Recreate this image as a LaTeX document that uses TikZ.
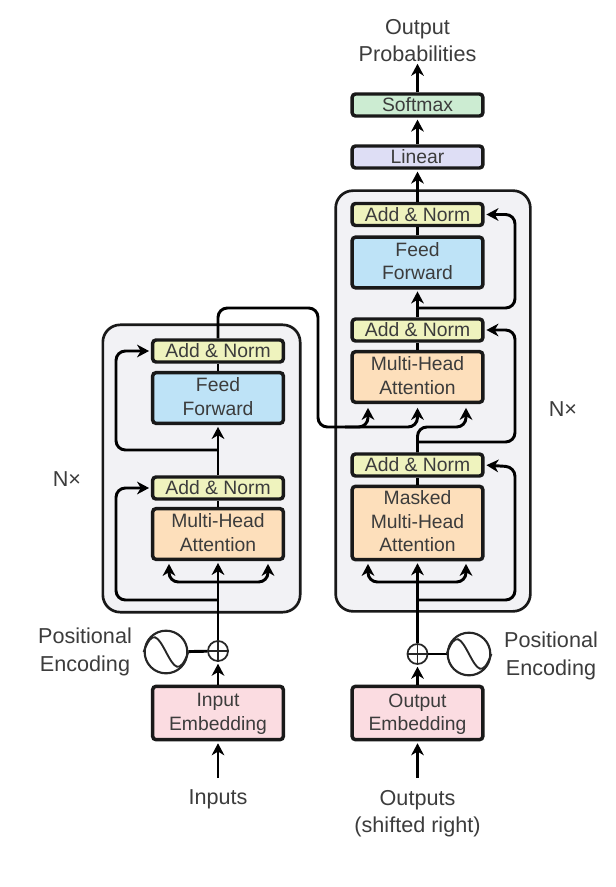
\documentclass[tikz,border=0pt]{standalone}
\usepackage{fontspec}
\setmainfont{Liberation Sans}
\usetikzlibrary{arrows.meta}
\definecolor{txt}{HTML}{3C3C3C}
\definecolor{bgc}{HTML}{F2F2F5}
\definecolor{normc}{HTML}{EFF3BE}
\definecolor{ffc}{HTML}{BEE3F7}
\definecolor{attc}{HTML}{FDDFBB}
\definecolor{embc}{HTML}{FBDCE1}
\definecolor{softc}{HTML}{CCECD2}
\definecolor{linc}{HTML}{DEDEF5}
\tikzset{
  blockbg/.style={draw=black!90,fill=bgc,line width=2pt,rounded corners=13pt},
  lbl/.style={font=\fontsize{16.2}{20.25}\selectfont,text=txt,align=center,inner sep=0pt},
  pelbl/.style={font=\fontsize{16.2}{21}\selectfont,text=txt,align=center,inner sep=0pt},
  box/.style={draw=black!90,line width=2.6pt,rounded corners=2.5pt,minimum width=98pt,inner sep=0pt,align=center,
    font=\fontsize{14.5}{17.6}\selectfont,text=txt},
  nbox/.style={box,fill=normc,minimum height=16.5pt},
  ffbox/.style={box,fill=ffc,minimum height=38pt,text depth=2.4pt},
  attbox/.style={box,fill=attc,minimum height=38pt,text depth=2.4pt},
  maskbox/.style={box,fill=attc,minimum height=55pt,text depth=2.4pt},
  embbox/.style={box,fill=embc,minimum height=40pt,text depth=1.5pt},
  softbox/.style={box,fill=softc,minimum height=16.5pt},
  linbox/.style={box,fill=linc,minimum height=16.5pt},
  plusnode/.style={circle,draw=black!85,fill=white,line width=1.3pt,minimum size=15pt,inner sep=0pt},
  sinenode/.style={circle,draw=black!85,fill=white,line width=1.6pt,minimum size=32pt,inner sep=0pt},
  wire/.style={draw=black,line width=2.2pt,rounded corners=7pt},
  arr/.style={wire,-{Stealth[length=9pt,width=9.5pt,inset=2.8pt]},shorten >=1.4pt},
  thin wire/.style={draw=black!85,line width=1.2pt},
  sine wire/.style={draw=black!85,line width=1.4pt},
}
\begin{document}
\begin{tikzpicture}[x=0.75pt,y=-0.75pt]
\useasboundingbox (0,0) rectangle (615,887);
\fill[white] (0,0) rectangle (615,887);
% block backgrounds
\node[blockbg,minimum width=148pt,minimum height=215.5pt,inner sep=0pt] (encbg) at (201.5,468.5) {};
\node[blockbg,minimum width=146pt,minimum height=315.5pt,inner sep=0pt] (decbg) at (433,401) {};
% encoder
\node[nbox] (eAN2) at (218,351) {Add \& Norm};
\node[ffbox] (eFF) at (218,398) {Feed\\Forward};
\node[nbox] (eAN1) at (218,488) {Add \& Norm};
\node[attbox] (eMH) at (218,534) {Multi-Head\\Attention};
\node[embbox] (eEmb) at (218,713) {Input\\Embedding};
\node[plusnode] (ePlus) at (218,651) {};
\node[sinenode] (eSine) at (166,652) {};
% decoder
\node[softbox] (soft) at (417.5,105) {Softmax};
\node[linbox] (lin) at (417.5,157) {Linear};
\node[nbox] (dAN3) at (417.5,214.5) {Add \& Norm};
\node[ffbox] (dFF) at (417.5,262.5) {Feed\\Forward};
\node[nbox] (dAN2) at (417.5,330) {Add \& Norm};
\node[attbox] (dMH) at (417.5,377) {Multi-Head\\Attention};
\node[nbox] (dAN1) at (417.5,465) {Add \& Norm};
\node[maskbox] (dMask) at (417.5,523) {Masked\\Multi-Head\\Attention};
\node[embbox] (dEmb) at (417.5,713) {Output\\Embedding};
\node[plusnode] (dPlus) at (417.5,654) {};
\node[sinenode] (dSine) at (469,654) {};
% labels
\node[lbl] (outprob) at (417.5,40.5) {Output\\Probabilities};
\node[lbl] (inputs) at (218,799.5) {Inputs};
\node[lbl] (outputs) at (417.5,813.5) {Outputs\\(shifted right)};
\node[lbl] (nL) at (67,479) {N×};
\node[lbl] (nR) at (563,409) {N×};
\node[pelbl] (peL) at (85,651.5) {Positional\\Encoding};
\node[pelbl] (peR) at (551,655.5) {Positional\\Encoding};
% named points
\coordinate (inStart) at (218,778);
\coordinate (outStart) at (417.5,778);
\coordinate (eRes1) at (218,600);
\coordinate (eSplit1) at (218,582);
\coordinate (eRes2) at (218,450);
\coordinate (eTop) at (218,308);
\coordinate (eOutR) at (318,308);
\coordinate (eOutB) at (318,427);
\coordinate (eRun) at (345,427);
\coordinate (dRes1) at (417.5,600);
\coordinate (dSplit1) at (417.5,582);
\coordinate (dRes2) at (417.5,442);
\coordinate (dBend) at (417.5,427);
\coordinate (dRes3) at (417.5,308);
% tips of the attention inputs
\coordinate (eTipL) at (169,562);
\coordinate (eTipR) at (268,562);
\coordinate (dTipL) at (368,562);
\coordinate (dTipR) at (466,562);
\coordinate (xTipL) at (368,406);
\coordinate (xTipM) at (417.5,406);
\coordinate (xTipR) at (466,406);
% encoder connectors
\draw[arr] (inStart) -- (eEmb.south);
\draw[arr] (eEmb.north) -- (ePlus.south);
\draw[arr] (ePlus.north) -- (eMH.south);
\draw[wire] (eMH.north) -- (eAN1.south);
\draw[arr] (eAN1.north) -- (eFF.south);
\draw[wire] (eFF.north) -- (eAN2.south);
\draw[arr] (eRes1) -| (116,488) -- (eAN1.west);
\draw[arr] (eRes2) -| (116,351) -- (eAN2.west);
\draw[arr] (eSplit1) -| (eTipL);
\draw[arr] (eSplit1) -| (eTipR);
\draw[wire] (eAN2.north) |- (eOutR) -- (eOutB) -- (eRun);
\draw[arr] (eRun) -| (xTipL);
\draw[arr] (eRun) -| (xTipM);
% decoder connectors
\draw[arr] (outStart) -- (dEmb.south);
\draw[arr] (dEmb.north) -- (dPlus.south);
\draw[arr] (dPlus.north) -- (dMask.south);
\draw[wire] (dMask.north) -- (dAN1.south);
\draw[arr] (dAN1.north) |- (xTipR |- dBend) -- (xTipR);
\draw[wire] (dMH.north) -- (dAN2.south);
\draw[arr] (dAN2.north) -- (dFF.south);
\draw[wire] (dFF.north) -- (dAN3.south);
\draw[arr] (dAN3.north) -- (lin.south);
\draw[arr] (lin.north) -- (soft.south);
\draw[arr] (soft.north) -- (outprob.south);
\draw[arr] (dSplit1) -| (dTipL);
\draw[arr] (dSplit1) -| (dTipR);
\draw[arr] (dRes1) -| (515,467) -- (dAN1.east);
\draw[arr] (dRes2) -| (515,330) -- (dAN2.east);
\draw[arr] (dRes3) -| (515,214.5) -- (dAN3.east);
% positional encoding
\draw[wire] (ePlus) -- (eSine);
\draw[wire] (dPlus) -- (dSine);
\draw[thin wire] (ePlus.north) -- (ePlus.south) (ePlus.west) -- (ePlus.east);
\draw[thin wire] (dPlus.north) -- (dPlus.south) (dPlus.west) -- (dPlus.east);
\draw[sine wire] (eSine.west) .. controls +(9,-24) and +(-8,-15) .. (eSine.center) .. controls +(8,15) and +(-9,24) .. (eSine.east);
\draw[sine wire] (dSine.west) .. controls +(9,-24) and +(-8,-15) .. (dSine.center) .. controls +(8,15) and +(-9,24) .. (dSine.east);
\end{tikzpicture}
\end{document}
